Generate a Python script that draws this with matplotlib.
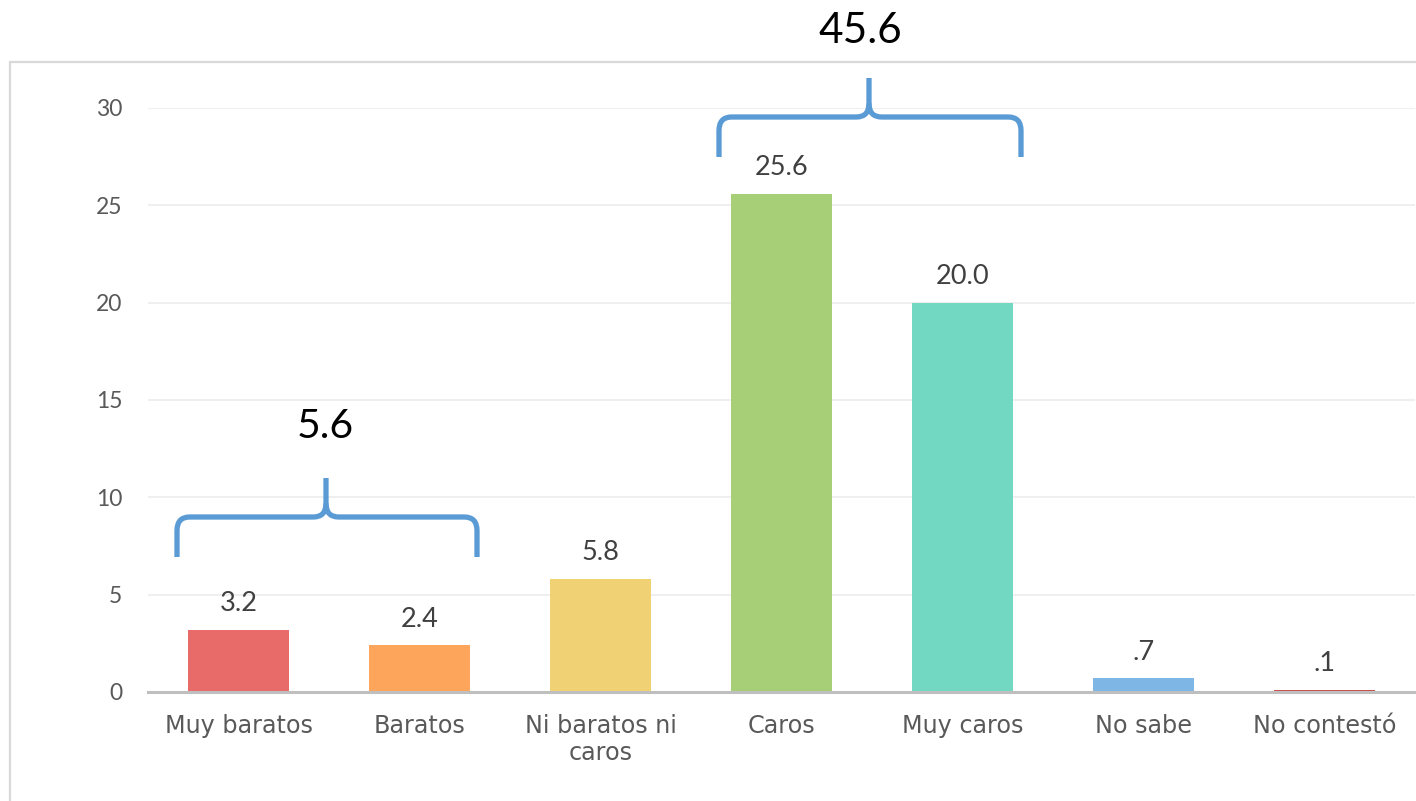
import matplotlib
matplotlib.use("Agg")
import matplotlib.pyplot as plt
from matplotlib.path import Path
from matplotlib.patches import PathPatch, Rectangle

categories = ["Muy baratos", "Baratos", "Ni baratos ni\ncaros", "Caros", "Muy caros", "No sabe", "No contestó"]
values = [3.2, 2.4, 5.8, 25.6, 20.0, 0.7, 0.1]
bar_colors = ["#e96b69", "#fda55b", "#f0d274", "#a6cf77", "#72d8c2", "#7eb6e6", "#c9504d"]
yticks = [0, 5, 10, 15, 20, 25, 30]
group_members = [(0, 1), (3, 4)]
group_labels = ["5.6", "45.6"]

plt.rcParams['font.family'] = ['Lato', 'DejaVu Sans']

W, H = 1416, 801
fig = plt.figure(figsize=(W / 100, H / 100), dpi=100)
fig.add_artist(Rectangle((10 / W, -0.05), 1.2, 1 - 62 / H + 0.05, transform=fig.transFigure,
                         fill=False, edgecolor="#d9d9d9", linewidth=1.6))

ax = fig.add_axes([148 / W, 1 - 692 / H, (1415 - 148) / W, (692 - 108) / H])
x = list(range(len(categories)))
ax.bar(x, values, width=0.56, color=bar_colors, zorder=3)
ax.set_xlim(-0.5, len(categories) - 0.5)
ax.set_ylim(0, 30)
ax.set_yticks(yticks)
ax.set_yticklabels([str(t) for t in yticks], fontsize=16.5, color="#595959")
ax.set_xticks(x)
ax.set_xticklabels(categories, linespacing=1.2, fontsize=17.2, color="#595959",
                   family=['DejaVu Sans'])
ax.tick_params(axis='both', length=0)
ax.tick_params(axis='y', pad=18.5)
ax.tick_params(axis='x', pad=15.5)
ax.grid(axis='y', color="#efefef", linewidth=1.4, zorder=0)
for s in ["top", "right", "left"]:
    ax.spines[s].set_visible(False)
ax.spines["bottom"].set_color("#bfbfbf")
ax.spines["bottom"].set_linewidth(2.2)
ax.spines["bottom"].set_zorder(4)
ax.set_facecolor("none")

for xi, v in zip(x, values):
    lab = f"{v:.1f}"
    if lab.startswith("0"):
        lab = lab[1:]
    ax.annotate(lab, (xi, v), xytext=(0, 13.5), textcoords="offset points",
                ha="center", va="baseline", fontsize=19.5, color="#404040")

# braces
def brace(x0, x1, xc, ybot, yh, ytop, rx=0.07, ry=0.7):
    verts = [(x0, ybot), (x0, yh - ry), (x0, yh), (x0 + rx, yh),
             (xc - rx, yh), (xc, yh), (xc, yh + ry), (xc, ytop)]
    codes = [Path.MOVETO, Path.LINETO, Path.CURVE3, Path.CURVE3,
             Path.LINETO, Path.CURVE3, Path.CURVE3, Path.LINETO]
    verts2 = [(x1, ybot), (x1, yh - ry), (x1, yh), (x1 - rx, yh),
              (xc + rx, yh), (xc, yh), (xc, yh + ry)]
    codes2 = [Path.MOVETO, Path.LINETO, Path.CURVE3, Path.CURVE3,
              Path.LINETO, Path.CURVE3, Path.CURVE3]
    for vv, cc in ((verts, codes), (verts2, codes2)):
        ax.add_patch(PathPatch(Path(vv, cc), fill=False, edgecolor="#5b9bd5",
                               linewidth=3.8, clip_on=False, zorder=5,
                               capstyle="butt", joinstyle="round"))

px = (1415 - 148) / 7.0
def dx(p):
    return (p - 148) / px - 0.5
def dy(p):
    return (692 - p) / ((692 - 108) / 30.0)

brace(dx(177), dx(477), dx(326), dy(557), dy(517), dy(478))
brace(dx(719), dx(1021), dx(869), dy(157), dy(117), dy(78))

ax.text(dx(325), dy(427), group_labels[0], ha="center", va="center", fontsize=29.5,
        color="black", clip_on=False)
ax.text(dx(860), dy(31), group_labels[1], ha="center", va="center", fontsize=30.5,
        color="black", clip_on=False)

fig.savefig("out.png", dpi=100)
